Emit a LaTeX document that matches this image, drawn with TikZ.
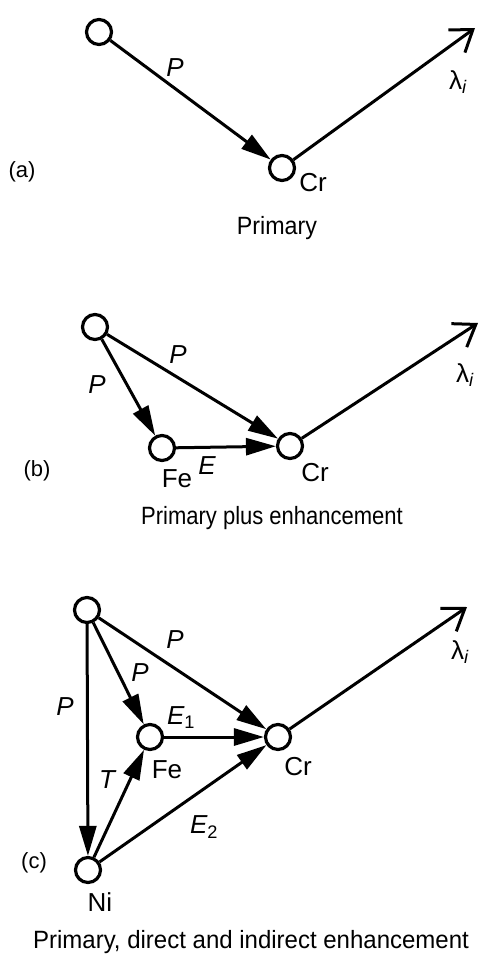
\documentclass[tikz,border=0pt]{standalone}
\usepackage{fontspec}
\setmainfont{Liberation Sans}
\usetikzlibrary{arrows.meta}
\tikzset{
  atm/.style  ={circle, draw, line width=3.2pt, minimum size=25pt, inner sep=0pt},
  fl/.style   ={-{Triangle[length=30pt,width=17pt]}, line width=3pt},
  emit/.style ={-{Straight Barb[length=20pt,width=28pt,line width=3pt]}, line width=3pt},
  lbl/.style  ={font=\fontsize{26}{30}\selectfont\itshape, inner sep=0pt},
  el/.style   ={font=\fontsize{26}{30}\selectfont, inner sep=0pt},
  tag/.style  ={font=\fontsize{22}{26}\selectfont, inner sep=0pt},
  capt/.style ={font=\fontsize{25}{29}\selectfont, inner sep=0pt}
}
\begin{document}
\begin{tikzpicture}[x=1pt,y=-1pt]
  \useasboundingbox (0,0) rectangle (496,956);

  % (a) primary
  \node[atm] (a0) at (99,32) {};
  \node[atm] (acr) at (282,168) {};
  \coordinate (ax) at (475,28);
  \draw[fl] (a0)--(acr);
  \draw[emit] (acr)--(ax);
  \node[lbl] (ap) at (175,68) {P};
  \node[el] (al) at (458,82) {λ\textsubscript{\itshape i}};
  \node[el] (acrl) at (313,183) {Cr};
  \node[tag] (atag) at (22,172) {(a)};
  \node[capt] (acap) at (277,228) {\scalebox{0.93}[1]{Primary}};

  % (b) primary plus enhancement
  \node[atm] (b0) at (95,327) {};
  \node[atm] (bfe) at (162,448) {};
  \node[atm] (bcr) at (290,446) {};
  \coordinate (bx) at (478,323);
  \draw[fl] (b0)--(bfe);
  \draw[fl] (b0)--(bcr);
  \draw[fl] (bfe)--(bcr);
  \draw[emit] (bcr)--(bx);
  \node[lbl] (bp1) at (178,355) {P};
  \node[lbl] (bp2) at (97,385) {P};
  \node[lbl] (be) at (207,466) {E};
  \node[el] (bfel) at (177,479) {Fe};
  \node[el] (bcrl) at (315,473) {Cr};
  \node[el] (bl) at (465,375) {λ\textsubscript{\itshape i}};
  \node[tag] (btag) at (37,471) {(b)};
  \node[capt] (bcap) at (272,518) {\scalebox{0.88}[1]{Primary plus enhancement}};

  % (c) primary, direct and indirect enhancement
  \node[atm] (c0) at (87,610) {};
  \node[atm] (cfe) at (150,737) {};
  \node[atm] (ccr) at (278,737) {};
  \node[atm] (cni) at (88,870) {};
  \coordinate (cx) at (467,607);
  \draw[fl] (c0)--(ccr);
  \draw[fl] (c0)--(cfe);
  \draw[fl] (c0)--(cni);
  \draw[fl] (cfe)--(ccr);
  \draw[fl] (cni)--(cfe);
  \draw[fl] (cni)--(ccr);
  \draw[emit] (ccr)--(cx);
  \node[lbl] (cp1) at (175,640) {P};
  \node[lbl] (cp2) at (140,673) {P};
  \node[lbl] (cp3) at (65,707) {P};
  \node[lbl] (ce1) at (181,718) {E\textsubscript{\upshape 1}};
  \node[lbl] (ct) at (107,780) {T};
  \node[lbl] (ce2) at (204,827) {E\textsubscript{\upshape 2}};
  \node[el] (cfel) at (167,770) {Fe};
  \node[el] (ccrl) at (298,767) {Cr};
  \node[el] (cnil) at (100,902) {Ni};
  \node[el] (cl) at (460,652) {λ\textsubscript{\itshape i}};
  \node[tag] (ctag) at (34,863) {(c)};
  \node[capt] (ccap) at (251,942) {\scalebox{0.96}[1]{Primary, direct and indirect enhancement}};
\end{tikzpicture}
\end{document}
